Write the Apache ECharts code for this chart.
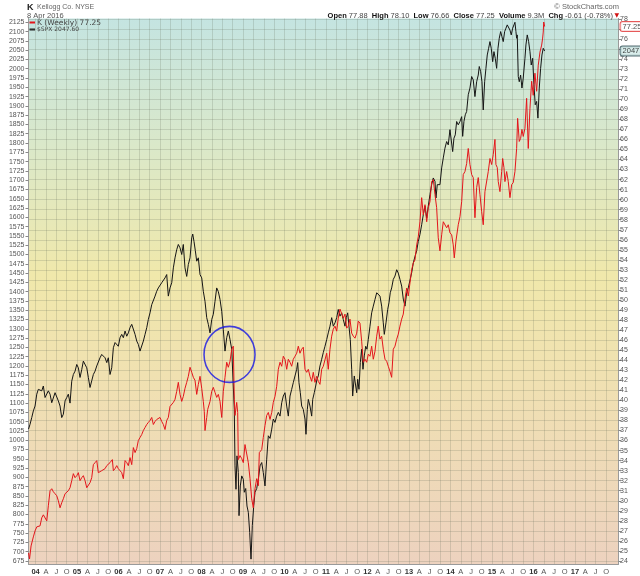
<!DOCTYPE html>
<html><head><meta charset="utf-8">
<script src="https://cdn.jsdelivr.net/npm/echarts@6/dist/echarts.min.js"></script>
<style>html,body{margin:0;padding:0;background:#fff}#c{width:640px;height:576px}</style>
</head><body><div id="c"></div>
<script>
// ---- data (time as decimal years) ----
const spxTime = [2003.831,2003.867,2003.908,2003.947,2003.988,2004.029,2004.067,2004.108,2004.149,2004.188,2004.229,2004.270,2004.308,2004.349,2004.390,2004.429,2004.470,2004.511,2004.549,2004.590,2004.631,2004.670,2004.711,2004.752,2004.790,2004.831,2004.872,2004.911,2004.952,2004.993,2005.031,2005.072,2005.113,2005.152,2005.193,2005.234,2005.272,2005.313,2005.354,2005.393,2005.434,2005.475,2005.513,2005.554,2005.595,2005.634,2005.675,2005.716,2005.754,2005.795,2005.836,2005.875,2005.916,2005.957,2005.995,2006.036,2006.077,2006.116,2006.157,2006.198,2006.236,2006.277,2006.318,2006.357,2006.398,2006.439,2006.477,2006.518,2006.559,2006.598,2006.639,2006.680,2006.718,2006.759,2006.800,2006.839,2006.880,2006.920,2006.959,2007.000,2007.041,2007.080,2007.120,2007.161,2007.200,2007.241,2007.282,2007.321,2007.361,2007.402,2007.441,2007.482,2007.523,2007.561,2007.602,2007.643,2007.682,2007.723,2007.764,2007.788,2007.819,2007.851,2007.884,2007.923,2007.964,2008.005,2008.043,2008.084,2008.125,2008.164,2008.205,2008.246,2008.284,2008.325,2008.366,2008.405,2008.446,2008.487,2008.525,2008.566,2008.607,2008.646,2008.687,2008.728,2008.766,2008.790,2008.807,2008.831,2008.855,2008.887,2008.904,2008.935,2008.969,2009.007,2009.031,2009.065,2009.096,2009.128,2009.161,2009.193,2009.224,2009.258,2009.289,2009.330,2009.369,2009.410,2009.451,2009.489,2009.530,2009.571,2009.610,2009.651,2009.692,2009.730,2009.771,2009.812,2009.851,2009.892,2009.933,2009.971,2010.012,2010.053,2010.092,2010.133,2010.173,2010.212,2010.253,2010.294,2010.318,2010.349,2010.381,2010.414,2010.453,2010.494,2010.518,2010.550,2010.574,2010.614,2010.655,2010.680,2010.718,2010.752,2010.783,2010.814,2010.855,2010.896,2010.935,2010.976,2011.017,2011.055,2011.096,2011.137,2011.176,2011.217,2011.258,2011.296,2011.337,2011.378,2011.417,2011.458,2011.489,2011.523,2011.554,2011.586,2011.619,2011.643,2011.682,2011.716,2011.740,2011.764,2011.795,2011.827,2011.860,2011.892,2011.923,2011.957,2011.988,2012.019,2012.060,2012.101,2012.140,2012.181,2012.222,2012.260,2012.301,2012.342,2012.381,2012.405,2012.446,2012.487,2012.518,2012.549,2012.583,2012.622,2012.663,2012.704,2012.742,2012.783,2012.824,2012.863,2012.904,2012.945,2012.983,2013.024,2013.065,2013.104,2013.145,2013.186,2013.224,2013.265,2013.306,2013.345,2013.386,2013.427,2013.465,2013.506,2013.547,2013.586,2013.627,2013.651,2013.682,2013.716,2013.747,2013.788,2013.827,2013.867,2013.908,2013.947,2013.988,2014.019,2014.053,2014.084,2014.116,2014.149,2014.188,2014.229,2014.270,2014.294,2014.325,2014.357,2014.390,2014.429,2014.470,2014.511,2014.549,2014.590,2014.631,2014.670,2014.694,2014.728,2014.759,2014.790,2014.824,2014.855,2014.887,2014.920,2014.952,2014.983,2015.017,2015.048,2015.080,2015.113,2015.145,2015.176,2015.210,2015.241,2015.272,2015.306,2015.337,2015.369,2015.402,2015.434,2015.465,2015.499,2015.530,2015.554,2015.578,2015.595,2015.610,2015.634,2015.658,2015.691,2015.723,2015.754,2015.795,2015.819,2015.851,2015.884,2015.916,2015.947,2015.981,2016.012,2016.043,2016.077,2016.108,2016.140,2016.173,2016.205,2016.236,2016.270];
const spxValue = [1030,1043,1061,1079,1092,1124,1137,1139,1133,1146,1115,1112,1133,1124,1101,1096,1128,1133,1106,1092,1061,1070,1106,1115,1124,1100,1159,1177,1186,1204,1195,1169,1190,1213,1218,1195,1169,1142,1160,1177,1186,1200,1195,1222,1231,1227,1222,1209,1222,1177,1195,1249,1263,1267,1253,1276,1285,1276,1294,1280,1289,1303,1312,1316,1285,1267,1258,1240,1236,1267,1285,1303,1325,1343,1365,1370,1388,1401,1410,1415,1424,1419,1437,1446,1388,1410,1424,1464,1491,1513,1527,1518,1500,1527,1464,1441,1473,1491,1545,1555,1535,1510,1482,1491,1446,1437,1401,1374,1330,1312,1289,1325,1339,1374,1410,1400,1379,1347,1298,1240,1276,1294,1271,1245,1240,1083,931,868,958,913,797,877,904,895,860,870,823,806,752,680,770,823,860,870,895,931,940,913,877,949,1012,1005,1030,1057,1048,1065,1075,1065,1101,1119,1128,1092,1065,1119,1137,1155,1173,1191,1209,1155,1128,1092,1083,1057,1016,1083,1110,1092,1065,1110,1128,1146,1164,1173,1200,1218,1236,1253,1271,1289,1307,1330,1307,1316,1330,1352,1334,1343,1325,1307,1330,1343,1307,1271,1191,1119,1173,1146,1128,1164,1137,1209,1245,1191,1227,1253,1245,1271,1307,1343,1361,1379,1397,1401,1388,1361,1316,1285,1316,1352,1370,1397,1410,1433,1442,1459,1450,1433,1415,1380,1361,1397,1410,1415,1451,1477,1495,1510,1535,1554,1580,1607,1630,1598,1630,1661,1688,1706,1697,1652,1688,1692,1688,1733,1760,1786,1804,1795,1836,1831,1777,1813,1822,1858,1849,1858,1871,1818,1858,1876,1885,1930,1948,1979,1970,1925,1965,1983,2006,1992,1965,1889,1965,2001,2037,2055,2073,2055,2019,2046,2028,2001,2055,2082,2100,2086,2073,2100,2109,2118,2122,2104,2091,2109,2118,2125,2100,2082,2091,1979,1965,1983,1948,1975,2028,2064,2091,2073,2046,2010,2028,1957,1903,1912,1867,1948,2001,2037,2055,2047.6];

const kTime = [2003.831,2003.855,2003.892,2003.947,2003.988,2004.029,2004.067,2004.108,2004.149,2004.188,2004.212,2004.270,2004.308,2004.349,2004.390,2004.429,2004.470,2004.511,2004.549,2004.590,2004.631,2004.670,2004.711,2004.752,2004.790,2004.831,2004.872,2004.911,2004.952,2004.993,2005.031,2005.072,2005.113,2005.152,2005.193,2005.234,2005.272,2005.313,2005.354,2005.393,2005.434,2005.475,2005.513,2005.554,2005.595,2005.634,2005.675,2005.716,2005.754,2005.795,2005.851,2005.875,2005.916,2005.957,2005.995,2006.036,2006.077,2006.116,2006.157,2006.198,2006.236,2006.277,2006.318,2006.357,2006.398,2006.439,2006.477,2006.518,2006.559,2006.598,2006.639,2006.680,2006.718,2006.759,2006.800,2006.839,2006.880,2006.920,2006.959,2007.000,2007.041,2007.080,2007.120,2007.161,2007.200,2007.241,2007.282,2007.321,2007.361,2007.402,2007.441,2007.482,2007.523,2007.561,2007.602,2007.643,2007.682,2007.723,2007.764,2007.803,2007.843,2007.884,2007.923,2007.964,2008.005,2008.043,2008.067,2008.084,2008.125,2008.149,2008.205,2008.246,2008.284,2008.325,2008.366,2008.405,2008.446,2008.487,2008.525,2008.566,2008.607,2008.646,2008.687,2008.728,2008.766,2008.790,2008.807,2008.848,2008.872,2008.887,2008.928,2008.969,2009.007,2009.048,2009.089,2009.128,2009.169,2009.210,2009.248,2009.289,2009.330,2009.369,2009.393,2009.451,2009.489,2009.530,2009.571,2009.610,2009.651,2009.692,2009.730,2009.771,2009.812,2009.851,2009.892,2009.933,2009.971,2010.012,2010.053,2010.092,2010.133,2010.173,2010.212,2010.253,2010.294,2010.333,2010.373,2010.414,2010.453,2010.494,2010.535,2010.574,2010.614,2010.655,2010.694,2010.735,2010.776,2010.814,2010.855,2010.896,2010.935,2010.976,2011.017,2011.055,2011.096,2011.137,2011.176,2011.217,2011.258,2011.296,2011.337,2011.378,2011.417,2011.458,2011.499,2011.537,2011.578,2011.619,2011.658,2011.699,2011.740,2011.778,2011.819,2011.860,2011.899,2011.940,2011.981,2012.019,2012.060,2012.101,2012.140,2012.181,2012.222,2012.260,2012.301,2012.342,2012.381,2012.422,2012.463,2012.501,2012.542,2012.583,2012.622,2012.663,2012.704,2012.742,2012.783,2012.824,2012.863,2012.904,2012.945,2012.983,2013.024,2013.065,2013.104,2013.145,2013.186,2013.224,2013.265,2013.306,2013.345,2013.386,2013.427,2013.465,2013.506,2013.547,2013.586,2013.627,2013.667,2013.706,2013.747,2013.788,2013.827,2013.867,2013.908,2013.947,2013.988,2014.029,2014.067,2014.092,2014.133,2014.188,2014.229,2014.270,2014.308,2014.349,2014.390,2014.429,2014.470,2014.511,2014.549,2014.590,2014.631,2014.670,2014.711,2014.752,2014.790,2014.831,2014.872,2014.911,2014.952,2014.993,2015.031,2015.072,2015.096,2015.128,2015.152,2015.193,2015.234,2015.258,2015.289,2015.313,2015.354,2015.393,2015.434,2015.475,2015.513,2015.554,2015.595,2015.619,2015.658,2015.691,2015.723,2015.754,2015.795,2015.836,2015.875,2015.916,2015.957,2015.995,2016.036,2016.077,2016.116,2016.157,2016.198,2016.222,2016.236,2016.248,2016.270];
const kValue = [24.8,24.2,25.5,26.4,27.0,27.4,27.4,27.5,28.3,28.6,28.7,28.0,29.5,31.0,31.2,30.9,30.7,30.5,30.0,29.3,29.8,30.2,30.7,30.8,31.0,31.3,32.0,32.7,32.3,32.5,32.8,32.0,32.3,32.5,32.0,31.3,31.3,31.8,32.3,33.6,33.8,34.0,32.8,32.9,33.0,33.1,33.2,33.5,33.6,33.8,34.1,33.0,33.2,33.5,33.2,33.0,32.8,32.2,34.0,33.8,33.5,34.3,33.6,35.3,34.8,35.2,36.0,36.3,36.6,37.0,37.3,37.6,37.8,38.0,38.3,37.6,37.9,38.1,38.2,38.3,37.9,37.6,37.1,38.0,38.3,39.4,39.4,39.8,40.1,40.9,41.8,40.6,39.9,40.4,41.2,41.8,42.4,43.3,42.8,42.3,42.0,40.6,41.6,42.4,41.2,39.9,38.9,37.0,38.3,39.1,39.9,40.9,41.3,40.8,40.3,40.6,39.9,38.3,40.9,42.3,43.8,43.3,43.9,45.1,45.4,40.1,38.5,39.8,38.8,34.1,34.5,34.2,33.8,35.6,35.5,33.8,32.2,30.2,29.3,31.2,32.2,31.5,34.8,35.1,36.3,37.5,38.5,38.8,38.1,38.8,39.8,40.4,41.4,43.1,43.8,43.4,44.4,44.1,43.1,44.1,43.8,43.4,44.1,44.4,44.7,45.4,44.7,45.1,45.3,43.1,42.8,43.1,42.4,41.9,42.8,41.8,42.4,41.9,41.6,43.1,43.4,43.4,44.7,43.1,45.1,46.4,47.1,47.4,46.9,48.2,49.1,49.2,48.2,48.6,47.2,47.4,48.1,46.7,46.4,46.2,46.7,47.9,47.7,45.9,43.8,44.1,43.8,44.6,44.4,45.4,44.1,44.9,46.4,47.4,46.1,46.4,45.1,44.1,43.9,43.4,42.9,42.3,45.1,45.4,46.1,46.6,47.4,48.1,48.6,50.1,51.2,50.4,51.7,53.0,53.7,54.0,55.5,56.3,57.8,60.2,58.5,59.5,57.8,59.2,59.8,61.8,62.0,60.5,59.2,56.2,54.9,56.5,57.8,57.7,57.2,57.5,56.7,56.5,55.5,54.2,55.9,57.5,58.3,59.8,62.5,62.8,63.6,65.1,63.5,62.5,62.2,58.2,61.2,62.2,60.5,58.8,57.5,60.8,60.8,62.8,64.1,63.5,64.5,66.0,63.5,63.2,61.8,60.8,62.8,64.1,63.2,61.8,62.8,61.8,60.2,61.5,61.7,62.8,65.1,68.1,65.8,66.1,67.0,66.3,67.1,70.1,65.1,69.1,71.8,70.4,72.6,70.8,73.4,74.7,75.4,76.1,76.7,77.7,77.25];

const circleAt = [2008.675, 1231];        // annotation circle (time, SPX)
const kLast = 77.25, spxLast = 2047.6;
const spxTicks = []; for (let v = 675; v <= 2125; v += 25) spxTicks.push(v);
const kTicks = []; for (let v = 24; v <= 78; v++) kTicks.push(v);
const kLabelTicks = kTicks.filter(v => v !== 75 && v !== 77);
const years = [2004,2005,2006,2007,2008,2009,2010,2011,2012,2013,2014,2015,2016,2017];
const quarterNames = ['', 'A', 'J', 'O'];
const quarterTicks = []; years.forEach(y => { for (let q = 0; q < 4; q++) quarterTicks.push(y + q * 0.25); });

const xMin = 2003.83, xMax = 2018.05;
const FONT = '"Liberation Sans", Arial, sans-serif';

const zip = (a, b) => a.slice(0, Math.min(a.length, b.length)).map((t, i) => [t, b[i]]);

const chart = echarts.init(document.getElementById('c'), null, {renderer: 'canvas'});
const gridColor = 'rgba(95,105,85,0.2)';
chart.setOption({
  animation: false,
  textStyle: {fontFamily: FONT},
  grid: {left: 28.5, right: 21.5, top: 18.5, bottom: 11, show: true, borderWidth: 0,
    backgroundColor: new echarts.graphic.LinearGradient(0, 0, 0, 1, [
      {offset: 0, color: '#c4e4e1'},
      {offset: 0.22, color: '#d9e8cb'},
      {offset: 0.47, color: '#f0e8ab'},
      {offset: 0.68, color: '#f0e0b2'},
      {offset: 1, color: '#edd2bf'}
    ])},
  xAxis: {
    type: 'value', min: xMin, max: xMax,
    axisLine: {show: true, lineStyle: {color: '#9a9a9a', width: 1}},
    axisTick: {show: false, customValues: quarterTicks},
    axisLabel: {
      customValues: quarterTicks, fontSize: 7.5, color: '#555', margin: 4, fontFamily: FONT,
      formatter: v => {
        const y = Math.floor(v + 1e-6), q = Math.round((v - y) * 4);
        return q === 0 ? '{b|' + String(y).slice(2) + '}' : quarterNames[q];
      },
      rich: {b: {fontWeight: 'bold', fontSize: 7.5, color: '#333', fontFamily: FONT}}
    },
    splitLine: {show: true, lineStyle: {color: gridColor, width: 1}}
  },
  yAxis: [
    {type: 'value', position: 'left', min: 666.9, max: 2135.2,
      axisLine: {show: true, lineStyle: {color: '#9a9a9a'}},
      axisTick: {show: true, length: 3, customValues: spxTicks, lineStyle: {color: '#888'}},
      axisLabel: {customValues: spxTicks, fontSize: 7, color: '#555', margin: 4, fontFamily: FONT,
        formatter: v => String(v)},
      splitLine: {show: false}},
    {type: 'value', position: 'right', min: 23.7, max: 78.05,
      axisLine: {show: true, lineStyle: {color: '#9a9a9a'}},
      axisTick: {show: true, length: 3, customValues: kTicks, lineStyle: {color: '#888'}},
      axisLabel: {customValues: kLabelTicks, fontSize: 7, color: '#555', margin: 1.5, fontFamily: FONT,
        formatter: v => String(v)},
      splitLine: {show: true, lineStyle: {color: gridColor, width: 1}}}
  ],
  series: [
    {name: '$SPX', type: 'line', yAxisIndex: 0, data: zip(spxTime, spxValue), showSymbol: false,
      lineStyle: {color: '#151515', width: 1}, itemStyle: {color: '#151515'}, z: 2, silent: true},
    {name: 'K', type: 'line', yAxisIndex: 1, data: zip(kTime, kValue), showSymbol: false,
      lineStyle: {color: '#e3151b', width: 1}, itemStyle: {color: '#e3151b'}, z: 3, silent: true},
    {type: 'scatter', yAxisIndex: 0, data: [circleAt], symbol: 'circle', symbolSize: [51, 56],
      itemStyle: {color: 'rgba(0,0,0,0)', borderColor: '#1414e6', borderWidth: 1.6}, z: 6, silent: true},
    {type: 'scatter', yAxisIndex: 1, data: [[xMax, kLast]], symbolSize: 0.1, clip: false, silent: true, z: 7,
      label: {show: true, position: 'right', distance: 2, formatter: String(kLast), fontSize: 7.5, color: '#222',
        backgroundColor: '#fff', borderColor: '#e03030', borderWidth: 1, borderRadius: 2, padding: [1, 1, 0, 2], fontFamily: FONT}},
    {type: 'scatter', yAxisIndex: 0, data: [[xMax, spxLast]], symbolSize: 0.1, clip: false, silent: true, z: 7,
      label: {show: true, position: 'right', distance: 2, formatter: '2047.60', fontSize: 7.5, color: '#111',
        backgroundColor: '#cfe8e6', borderColor: '#2a4a50', borderWidth: 1, borderRadius: 2, padding: [1, 1, 0, 2], fontFamily: FONT}}
  ],
  graphic: [
    {type: 'text', left: 27, top: 3, style: {text: 'K', font: 'bold 9px ' + FONT, fill: '#222'}},
    {type: 'text', left: 37, top: 4, style: {text: 'Kellogg Co. NYSE', font: '7px ' + FONT, fill: '#666'}},
    {type: 'text', left: 27, top: 11.5, style: {text: '8 Apr 2016', font: '7.5px ' + FONT, fill: '#555'}},
    {type: 'text', right: 21, top: 3, style: {text: '© StockCharts.com', font: '7.5px ' + FONT, fill: '#666'}},
    {type: 'text', right: 27, top: 11.5, style: {
      text: '{b|Open} 77.88  {b|High} 78.10  {b|Low} 76.66  {b|Close} 77.25  {b|Volume} 9.3M  {b|Chg} -0.61 (-0.78%)',
      font: '7.5px ' + FONT, fill: '#444',
      rich: {b: {fontWeight: 'bold', fontSize: 7.5, fill: '#111', fontFamily: FONT}}}},
    {type: 'text', right: 21, top: 12.5, style: {text: '▼', font: '6px "DejaVu Sans"', fill: '#d01010'}},
    {type: 'line', shape: {x1: 29.5, y1: 22.5, x2: 35, y2: 22.5}, style: {stroke: '#e3151b', lineWidth: 2}},
    {type: 'text', left: 37, top: 19, style: {text: 'K (Weekly) 77.25', font: '7.5px "DejaVu Sans"', fill: '#444'}},
    {type: 'line', shape: {x1: 29.5, y1: 29.5, x2: 35, y2: 29.5}, style: {stroke: '#222', lineWidth: 2}},
    {type: 'text', left: 37, top: 26.5, style: {text: '$SPX 2047.60', font: '6px "DejaVu Sans"', fill: '#444'}}
  ]
});
</script>
</body></html>
